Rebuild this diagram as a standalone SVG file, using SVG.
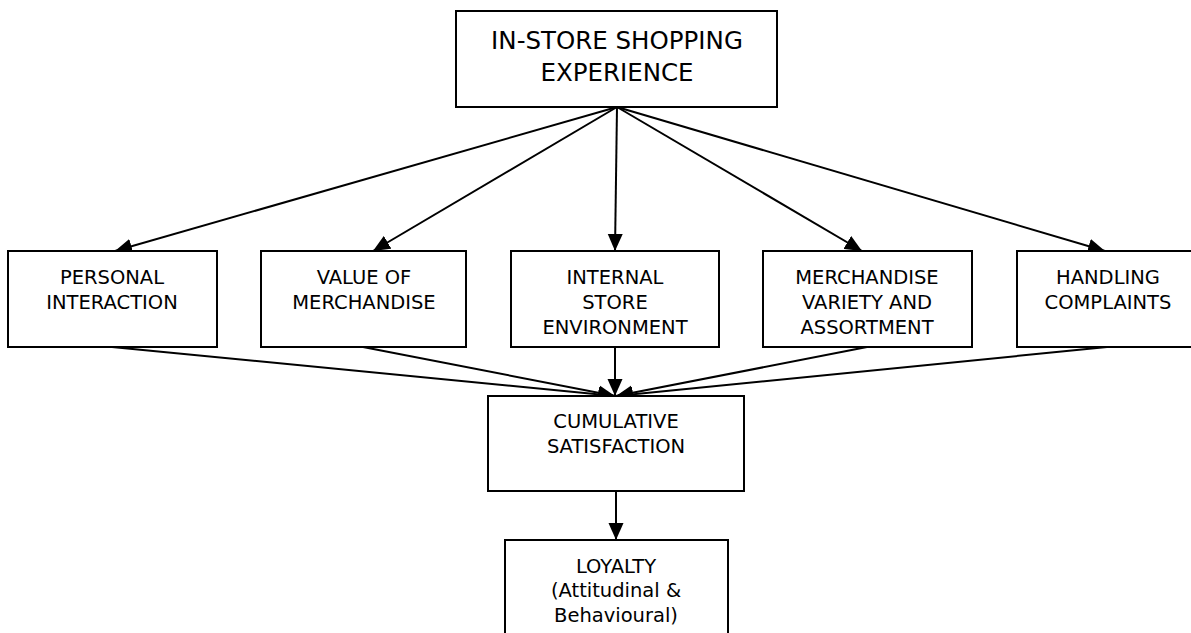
<svg xmlns="http://www.w3.org/2000/svg" width="1191" height="633" viewBox="0 0 1191 633">
<style>
.box{fill:#fff;stroke:#000;stroke-width:2}
.t{font-family:"DejaVu Sans",sans-serif;font-size:19.5px;fill:#000;text-anchor:middle}
.tl{font-family:"DejaVu Sans",sans-serif;font-size:24.5px;fill:#000;text-anchor:middle}
.c{stroke:#000;stroke-width:2;fill:none;marker-end:url(#ah)}
</style>
<defs>
<marker id="ah" markerUnits="userSpaceOnUse" markerWidth="18" markerHeight="16" refX="17" refY="8" orient="auto">
<path d="M0,0.5 L17,8 L0,15.5 Z" fill="#000"/>
</marker>
</defs>
<rect width="1191" height="633" fill="#fff"/>
<g id="connectors">
<line class="c" x1="617" y1="107" x2="115" y2="251"/>
<line class="c" x1="617" y1="107" x2="373" y2="251"/>
<line class="c" x1="617" y1="107" x2="615" y2="251"/>
<line class="c" x1="617" y1="107" x2="862" y2="251"/>
<line class="c" x1="617" y1="107" x2="1105" y2="251"/>
<line class="c" x1="112" y1="347" x2="615" y2="396"/>
<line class="c" x1="363" y1="347" x2="615" y2="396"/>
<line class="c" x1="615" y1="347" x2="615" y2="396"/>
<line class="c" x1="867" y1="347" x2="616" y2="396"/>
<line class="c" x1="1107" y1="347" x2="616" y2="396"/>
<line class="c" x1="616" y1="491" x2="616" y2="540"/>
</g>
<g id="n-top">
<rect class="box" x="456" y="11" width="321" height="96"/>
<text class="tl" x="617" y="49">IN-STORE SHOPPING</text>
<text class="tl" x="617" y="81">EXPERIENCE</text>
</g>
<g id="n-personal">
<rect class="box" x="8" y="251" width="209" height="96"/>
<text class="t" x="112" y="284">PERSONAL</text>
<text class="t" x="112" y="309">INTERACTION</text>
</g>
<g id="n-value">
<rect class="box" x="261" y="251" width="205" height="96"/>
<text class="t" x="364" y="284">VALUE OF</text>
<text class="t" x="364" y="309">MERCHANDISE</text>
</g>
<g id="n-internal">
<rect class="box" x="511" y="251" width="208" height="96"/>
<text class="t" x="615" y="284">INTERNAL</text>
<text class="t" x="615" y="309">STORE</text>
<text class="t" x="615" y="334">ENVIRONMENT</text>
</g>
<g id="n-variety">
<rect class="box" x="763" y="251" width="209" height="96"/>
<text class="t" x="867" y="284">MERCHANDISE</text>
<text class="t" x="867" y="309">VARIETY AND</text>
<text class="t" x="867" y="334">ASSORTMENT</text>
</g>
<g id="n-complaints">
<rect class="box" x="1017" y="251" width="190" height="96"/>
<text class="t" x="1108" y="284">HANDLING</text>
<text class="t" x="1108" y="309">COMPLAINTS</text>
</g>
<g id="n-cumulative">
<rect class="box" x="488" y="396" width="256" height="95"/>
<text class="t" x="616" y="428">CUMULATIVE</text>
<text class="t" x="616" y="453">SATISFACTION</text>
</g>
<g id="n-loyalty">
<rect class="box" x="505" y="540" width="223" height="110"/>
<text class="t" x="616" y="573">LOYALTY</text>
<text class="t" x="616" y="597">(Attitudinal &amp;</text>
<text class="t" x="616" y="622">Behavioural)</text>
</g>
</svg>
